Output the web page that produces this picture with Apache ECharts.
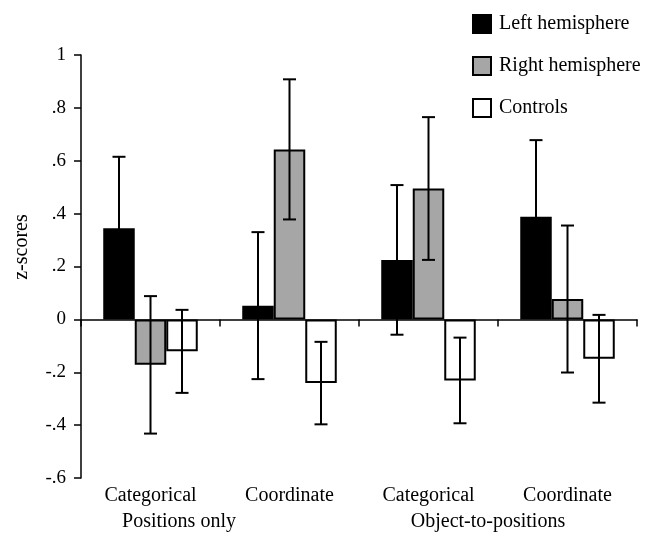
<!DOCTYPE html>
<html>
<head>
<meta charset="utf-8">
<script src="https://cdn.jsdelivr.net/npm/echarts@6/dist/echarts.min.js"></script>
<style>html,body{margin:0;padding:0;background:#fff;}#chart{width:649px;height:536px;}</style>
</head>
<body>
<div id="chart"></div>
<script>
const categories = ['Categorical', 'Coordinate', 'Categorical', 'Coordinate'];
const groupLabels = ['Positions only', 'Object-to-positions'];
const seriesNames = ['Left hemisphere', 'Right hemisphere', 'Controls'];
const leftValues = [0.345, 0.052, 0.225, 0.388];
const leftErrors = [0.27, 0.278, 0.283, 0.29];
const rightValues = [-0.172, 0.643, 0.495, 0.077];
const rightErrors = [0.26, 0.265, 0.27, 0.278];
const controlValues = [-0.121, -0.241, -0.231, -0.149];
const controlErrors = [0.157, 0.156, 0.162, 0.166];
const yTicks = { min: -0.6, max: 1, interval: 0.2 };

const FONT = '"Liberation Serif", "DejaVu Serif", serif';
const colors = ['#000000', '#a6a6a6', '#ffffff'];
const values = [leftValues, rightValues, controlValues];
const errors = [leftErrors, rightErrors, controlErrors];
const CAT_GAP = 0.32;
const catKeys = categories.map((c, i) => i + ':' + c);

function fmt(v) {
  const r = Math.round(v * 10) / 10;
  if (r === 0) return '0';
  if (Math.abs(r) === 1) return String(r);
  return (r < 0 ? '-' : '') + String(Math.abs(r)).replace(/^0/, '');
}

const barSeries = seriesNames.map((name, i) => ({
  name: name,
  type: 'bar',
  xAxisIndex: 0,
  data: values[i],
  barGap: '0%',
  barCategoryGap: (CAT_GAP * 100) + '%',
  itemStyle: { color: colors[i], borderColor: '#000', borderWidth: 2 },
  emphasis: { disabled: true },
  z: 2
}));

const errSeries = seriesNames.map((name, s) => ({
  name: name + ' error',
  type: 'custom',
  xAxisIndex: 0,
  z: 5,
  encode: { x: 0, y: 1 },
  data: values[s].map((v, i) => [i, v, errors[s][i]]),
  renderItem: function (params, api) {
    const idx = api.value(0), mean = api.value(1), err = api.value(2);
    const catW = api.size([1, 0])[0];
    const barW = catW * (1 - CAT_GAP) / 3;
    const cx = api.coord([idx, 0])[0] + (s - 1) * barW;
    const yTop = api.coord([idx, mean + err])[1];
    const yBot = api.coord([idx, mean - err])[1];
    const h = 6.5;
    const st = { stroke: '#000', lineWidth: 2 };
    return {
      type: 'group',
      children: [
        { type: 'line', shape: { x1: cx, y1: yTop, x2: cx, y2: yBot }, style: st },
        { type: 'line', shape: { x1: cx - h, y1: yTop, x2: cx + h, y2: yTop }, style: st },
        { type: 'line', shape: { x1: cx - h, y1: yBot, x2: cx + h, y2: yBot }, style: st }
      ]
    };
  }
}));

const chart = echarts.init(document.getElementById('chart'));
chart.setOption({
  animation: false,
  backgroundColor: '#fff',
  textStyle: { fontFamily: FONT },
  grid: { left: 81, right: 12, top: 55, bottom: 58 },
  legend: {
    data: seriesNames,
    orient: 'vertical',
    left: 472,
    top: 14,
    padding: 0,
    itemWidth: 18,
    itemHeight: 18,
    itemGap: 22,
    icon: 'rect',
    textStyle: { fontFamily: FONT, fontSize: 20, color: '#000', padding: [0, 0, 0, 3] },
    selectedMode: false
  },
  xAxis: [
    {
      type: 'category',
      data: catKeys,
      axisLine: { onZero: true, lineStyle: { color: '#000', width: 1.5 } },
      axisTick: { show: true, inside: false, length: 7, lineStyle: { color: '#000', width: 1.5 } },
      axisLabel: { show: false }
    },
    {
      type: 'category',
      data: catKeys,
      position: 'bottom',
      axisLine: { show: false, onZero: false },
      axisTick: { show: false },
      axisLabel: {
        interval: 0, margin: 8, fontFamily: FONT, fontSize: 20, color: '#000',
        formatter: function (v, i) { return categories[i]; }
      }
    }
  ],
  yAxis: {
    type: 'value',
    min: yTicks.min,
    max: yTicks.max,
    interval: yTicks.interval,
    axisLine: { show: true, lineStyle: { color: '#000', width: 1.5 } },
    axisTick: { show: true, length: 7, lineStyle: { color: '#000', width: 1.5 } },
    splitLine: { show: false },
    axisLabel: { formatter: fmt, margin: 15, fontFamily: FONT, fontSize: 19, color: '#000' }
  },
  graphic: [
    {
      type: 'text', x: 22, y: 247, rotation: Math.PI / 2,
      style: { text: 'z-scores', fontFamily: FONT, fontSize: 20, fill: '#000', align: 'center', verticalAlign: 'middle' }
    },
    {
      type: 'text', x: 179, y: 522,
      style: { text: groupLabels[0], fontFamily: FONT, fontSize: 20, fill: '#000', align: 'center', verticalAlign: 'middle' }
    },
    {
      type: 'text', x: 488, y: 522,
      style: { text: groupLabels[1], fontFamily: FONT, fontSize: 20, fill: '#000', align: 'center', verticalAlign: 'middle' }
    }
  ],
  series: barSeries.concat(errSeries)
});
</script>
</body>
</html>
